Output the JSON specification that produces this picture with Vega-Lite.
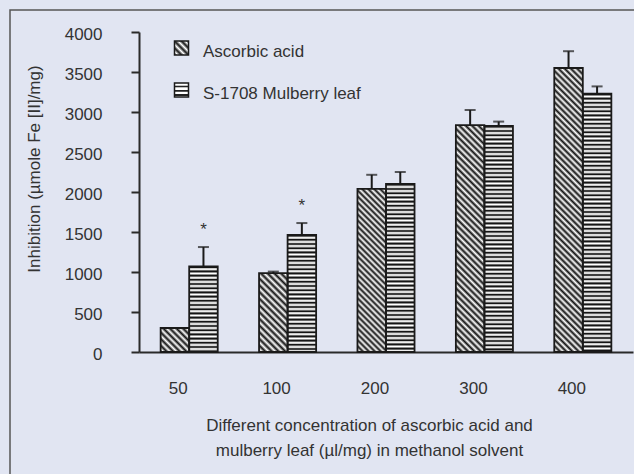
{
  "$schema": "https://vega.github.io/schema/vega-lite/v6.json",
  "width": 624,
  "height": 464,
  "autosize": {"type": "none"},
  "padding": {"left": 10, "top": 10, "right": 0, "bottom": 0},
  "background": "#e1e5f2",
  "config": {
    "font": "Liberation Sans",
    "view": {"stroke": "#555", "strokeWidth": 1.5, "strokeDash": [624, 1088, 464], "fill": null},
    "axis": {"grid": false, "domainColor": "#2a2a2a", "domainWidth": 2, "tickColor": "#2a2a2a", "tickWidth": 2, "labelColor": "#333", "titleColor": "#333", "labelFontSize": 17, "titleFontSize": 17, "titleFontWeight": "normal", "labelFont": "Liberation Sans", "titleFont": "Liberation Sans"}
  },
  "data": {"values": [
    {"conc": "50", "series": "Ascorbic acid", "value": 300, "upper": 300, "sig": ""},
    {"conc": "50", "series": "S-1708 Mulberry leaf", "value": 1070, "upper": 1312, "sig": "*"},
    {"conc": "100", "series": "Ascorbic acid", "value": 985, "upper": 1005, "sig": ""},
    {"conc": "100", "series": "S-1708 Mulberry leaf", "value": 1465, "upper": 1612, "sig": "*"},
    {"conc": "200", "series": "Ascorbic acid", "value": 2040, "upper": 2215, "sig": ""},
    {"conc": "200", "series": "S-1708 Mulberry leaf", "value": 2100, "upper": 2250, "sig": ""},
    {"conc": "300", "series": "Ascorbic acid", "value": 2835, "upper": 3025, "sig": ""},
    {"conc": "300", "series": "S-1708 Mulberry leaf", "value": 2825, "upper": 2880, "sig": ""},
    {"conc": "400", "series": "Ascorbic acid", "value": 3550, "upper": 3760, "sig": ""},
    {"conc": "400", "series": "S-1708 Mulberry leaf", "value": 3230, "upper": 3320, "sig": ""}
  ]},
  "encoding": {
    "x": {"field": "conc", "type": "nominal", "sort": ["50", "100", "200", "300", "400"],
      "scale": {"range": [129, 623], "paddingInner": 0.42, "paddingOuter": 0.22},
      "axis": {"orient": "bottom", "offset": -122, "ticks": false, "tickSize": 0, "labelPadding": 28.7, "labelOffset": -11, "labelAngle": 0,
        "title": ["Different concentration of  ascorbic acid and", "mulberry leaf (µl/mg) in methanol solvent"],
        "titleX": 359, "titleY": 78, "titleBaseline": "alphabetic", "titleLineHeight": 25, "titleAlign": "center"}},
    "xOffset": {"field": "series", "type": "nominal", "sort": ["Ascorbic acid", "S-1708 Mulberry leaf"], "scale": {"paddingInner": 0, "paddingOuter": 0}},
    "y": {"field": "value", "type": "quantitative",
      "scale": {"domain": [0, 4000], "range": [342, 22], "nice": false},
      "axis": {"orient": "left", "offset": -129, "values": [0, 500, 1000, 1500, 2000, 2500, 3000, 3500, 4000], "format": "d", "tickSize": 8, "labelPadding": 29, "labelAlign": "right", "labelBaseline": "middle", "labelOffset": 2.5,
        "title": "Inhibition (µmole Fe [II]/mg)", "titleX": -105, "titleY": 158.5, "titleBaseline": "middle", "titleAngle": 270}}
  },
  "layer": [
    {
      "mark": {"type": "bar", "fill": "#888"},
      "encoding": {
        "opacity": {"field": "series", "type": "nominal", "scale": {"domain": ["Ascorbic acid", "S-1708 Mulberry leaf"], "range": [1, 1]},
          "legend": {"orient": "none", "legendX": 163, "legendY": 29.5, "title": null, "padding": 0, "symbolType": "square", "symbolSize": 196, "labelFontSize": 17, "labelColor": "#333", "labelFont": "Liberation Sans", "labelOffset": 13, "rowPadding": 19, "labelBaseline": "middle",
            "encoding": {
              "symbols": {
                "fill": {"condition": {"test": "datum.value === 'Ascorbic acid'", "value": {"gradient": "linear", "x1": 0, "y1": 1, "x2": 1, "y2": 0, "stops": [{"offset": 0, "color": "#111"}, {"offset": 0.125, "color": "#fff"}, {"offset": 0.25, "color": "#111"}, {"offset": 0.375, "color": "#fff"}, {"offset": 0.5, "color": "#111"}, {"offset": 0.625, "color": "#fff"}, {"offset": 0.75, "color": "#111"}, {"offset": 0.875, "color": "#fff"}, {"offset": 1, "color": "#111"}]}},
                  "value": {"gradient": "linear", "x1": 0, "y1": 0, "x2": 0, "y2": 1, "stops": [{"offset": 0, "color": "#fff"}, {"offset": 0.17, "color": "#fff"}, {"offset": 0.2, "color": "#222"}, {"offset": 0.3, "color": "#222"}, {"offset": 0.33, "color": "#fff"}, {"offset": 0.47, "color": "#fff"}, {"offset": 0.5, "color": "#222"}, {"offset": 0.6, "color": "#222"}, {"offset": 0.63, "color": "#fff"}, {"offset": 0.77, "color": "#fff"}, {"offset": 0.8, "color": "#222"}, {"offset": 0.9, "color": "#222"}, {"offset": 0.93, "color": "#fff"}, {"offset": 1, "color": "#fff"}]}},
                "stroke": {"value": "#1a1a1a"},
                "strokeWidth": {"value": 1.5}
              },
              "labels": {"dy": {"value": 4}}
            }
          }
        }
      }
    },
    {
      "transform": [{"filter": "datum.series === 'Ascorbic acid'"}],
      "mark": {"type": "bar"},
      "encoding": {
        "fill": {"condition": [
          {"test": "datum.conc === '50'", "value": {"gradient": "linear", "x1": 0, "y1": 1, "x2": 1.0784, "y2": 0.0932, "stops": [{"offset": 0, "color": "#111"}, {"offset": 0.0625, "color": "#fff"}, {"offset": 0.125, "color": "#111"}, {"offset": 0.1875, "color": "#fff"}, {"offset": 0.25, "color": "#111"}, {"offset": 0.3125, "color": "#fff"}, {"offset": 0.375, "color": "#111"}, {"offset": 0.4375, "color": "#fff"}, {"offset": 0.5, "color": "#111"}, {"offset": 0.5625, "color": "#fff"}, {"offset": 0.625, "color": "#111"}, {"offset": 0.6875, "color": "#fff"}, {"offset": 0.75, "color": "#111"}, {"offset": 0.8125, "color": "#fff"}, {"offset": 0.875, "color": "#111"}, {"offset": 0.9375, "color": "#fff"}, {"offset": 1, "color": "#111"}]}},
          {"test": "datum.conc === '100'", "value": {"gradient": "linear", "x1": 0, "y1": 1, "x2": 0.4362, "y2": -0.2042, "stops": [{"offset": 0, "color": "#111"}, {"offset": 0.03125, "color": "#fff"}, {"offset": 0.0625, "color": "#111"}, {"offset": 0.09375, "color": "#fff"}, {"offset": 0.125, "color": "#111"}, {"offset": 0.15625, "color": "#fff"}, {"offset": 0.1875, "color": "#111"}, {"offset": 0.21875, "color": "#fff"}, {"offset": 0.25, "color": "#111"}, {"offset": 0.28125, "color": "#fff"}, {"offset": 0.3125, "color": "#111"}, {"offset": 0.34375, "color": "#fff"}, {"offset": 0.375, "color": "#111"}, {"offset": 0.40625, "color": "#fff"}, {"offset": 0.4375, "color": "#111"}, {"offset": 0.46875, "color": "#fff"}, {"offset": 0.5, "color": "#111"}, {"offset": 0.53125, "color": "#fff"}, {"offset": 0.5625, "color": "#111"}, {"offset": 0.59375, "color": "#fff"}, {"offset": 0.625, "color": "#111"}, {"offset": 0.65625, "color": "#fff"}, {"offset": 0.6875, "color": "#111"}, {"offset": 0.71875, "color": "#fff"}, {"offset": 0.75, "color": "#111"}, {"offset": 0.78125, "color": "#fff"}, {"offset": 0.8125, "color": "#111"}, {"offset": 0.84375, "color": "#fff"}, {"offset": 0.875, "color": "#111"}, {"offset": 0.90625, "color": "#fff"}, {"offset": 0.9375, "color": "#111"}, {"offset": 0.96875, "color": "#fff"}, {"offset": 1, "color": "#111"}]}},
          {"test": "datum.conc === '200'", "value": {"gradient": "linear", "x1": 0, "y1": 1, "x2": 0.1994, "y2": -0.14, "stops": [{"offset": 0, "color": "#111"}, {"offset": 0.015625, "color": "#fff"}, {"offset": 0.03125, "color": "#111"}, {"offset": 0.046875, "color": "#fff"}, {"offset": 0.0625, "color": "#111"}, {"offset": 0.078125, "color": "#fff"}, {"offset": 0.09375, "color": "#111"}, {"offset": 0.109375, "color": "#fff"}, {"offset": 0.125, "color": "#111"}, {"offset": 0.140625, "color": "#fff"}, {"offset": 0.15625, "color": "#111"}, {"offset": 0.171875, "color": "#fff"}, {"offset": 0.1875, "color": "#111"}, {"offset": 0.203125, "color": "#fff"}, {"offset": 0.21875, "color": "#111"}, {"offset": 0.234375, "color": "#fff"}, {"offset": 0.25, "color": "#111"}, {"offset": 0.265625, "color": "#fff"}, {"offset": 0.28125, "color": "#111"}, {"offset": 0.296875, "color": "#fff"}, {"offset": 0.3125, "color": "#111"}, {"offset": 0.328125, "color": "#fff"}, {"offset": 0.34375, "color": "#111"}, {"offset": 0.359375, "color": "#fff"}, {"offset": 0.375, "color": "#111"}, {"offset": 0.390625, "color": "#fff"}, {"offset": 0.40625, "color": "#111"}, {"offset": 0.421875, "color": "#fff"}, {"offset": 0.4375, "color": "#111"}, {"offset": 0.453125, "color": "#fff"}, {"offset": 0.46875, "color": "#111"}, {"offset": 0.484375, "color": "#fff"}, {"offset": 0.5, "color": "#111"}, {"offset": 0.515625, "color": "#fff"}, {"offset": 0.53125, "color": "#111"}, {"offset": 0.546875, "color": "#fff"}, {"offset": 0.5625, "color": "#111"}, {"offset": 0.578125, "color": "#fff"}, {"offset": 0.59375, "color": "#111"}, {"offset": 0.609375, "color": "#fff"}, {"offset": 0.625, "color": "#111"}, {"offset": 0.640625, "color": "#fff"}, {"offset": 0.65625, "color": "#111"}, {"offset": 0.671875, "color": "#fff"}, {"offset": 0.6875, "color": "#111"}, {"offset": 0.703125, "color": "#fff"}, {"offset": 0.71875, "color": "#111"}, {"offset": 0.734375, "color": "#fff"}, {"offset": 0.75, "color": "#111"}, {"offset": 0.765625, "color": "#fff"}, {"offset": 0.78125, "color": "#111"}, {"offset": 0.796875, "color": "#fff"}, {"offset": 0.8125, "color": "#111"}, {"offset": 0.828125, "color": "#fff"}, {"offset": 0.84375, "color": "#111"}, {"offset": 0.859375, "color": "#fff"}, {"offset": 0.875, "color": "#111"}, {"offset": 0.890625, "color": "#fff"}, {"offset": 0.90625, "color": "#111"}, {"offset": 0.921875, "color": "#fff"}, {"offset": 0.9375, "color": "#111"}, {"offset": 0.953125, "color": "#fff"}, {"offset": 0.96875, "color": "#111"}, {"offset": 0.984375, "color": "#fff"}, {"offset": 1, "color": "#111"}]}},
          {"test": "datum.conc === '300'", "value": {"gradient": "linear", "x1": 0, "y1": 1, "x2": 0.1395, "y2": -0.1083, "stops": [{"offset": 0, "color": "#111"}, {"offset": 0.0125, "color": "#fff"}, {"offset": 0.025, "color": "#111"}, {"offset": 0.0375, "color": "#fff"}, {"offset": 0.05, "color": "#111"}, {"offset": 0.0625, "color": "#fff"}, {"offset": 0.075, "color": "#111"}, {"offset": 0.0875, "color": "#fff"}, {"offset": 0.1, "color": "#111"}, {"offset": 0.1125, "color": "#fff"}, {"offset": 0.125, "color": "#111"}, {"offset": 0.1375, "color": "#fff"}, {"offset": 0.15, "color": "#111"}, {"offset": 0.1625, "color": "#fff"}, {"offset": 0.175, "color": "#111"}, {"offset": 0.1875, "color": "#fff"}, {"offset": 0.2, "color": "#111"}, {"offset": 0.2125, "color": "#fff"}, {"offset": 0.225, "color": "#111"}, {"offset": 0.2375, "color": "#fff"}, {"offset": 0.25, "color": "#111"}, {"offset": 0.2625, "color": "#fff"}, {"offset": 0.275, "color": "#111"}, {"offset": 0.2875, "color": "#fff"}, {"offset": 0.3, "color": "#111"}, {"offset": 0.3125, "color": "#fff"}, {"offset": 0.325, "color": "#111"}, {"offset": 0.3375, "color": "#fff"}, {"offset": 0.35, "color": "#111"}, {"offset": 0.3625, "color": "#fff"}, {"offset": 0.375, "color": "#111"}, {"offset": 0.3875, "color": "#fff"}, {"offset": 0.4, "color": "#111"}, {"offset": 0.4125, "color": "#fff"}, {"offset": 0.425, "color": "#111"}, {"offset": 0.4375, "color": "#fff"}, {"offset": 0.45, "color": "#111"}, {"offset": 0.4625, "color": "#fff"}, {"offset": 0.475, "color": "#111"}, {"offset": 0.4875, "color": "#fff"}, {"offset": 0.5, "color": "#111"}, {"offset": 0.5125, "color": "#fff"}, {"offset": 0.525, "color": "#111"}, {"offset": 0.5375, "color": "#fff"}, {"offset": 0.55, "color": "#111"}, {"offset": 0.5625, "color": "#fff"}, {"offset": 0.575, "color": "#111"}, {"offset": 0.5875, "color": "#fff"}, {"offset": 0.6, "color": "#111"}, {"offset": 0.6125, "color": "#fff"}, {"offset": 0.625, "color": "#111"}, {"offset": 0.6375, "color": "#fff"}, {"offset": 0.65, "color": "#111"}, {"offset": 0.6625, "color": "#fff"}, {"offset": 0.675, "color": "#111"}, {"offset": 0.6875, "color": "#fff"}, {"offset": 0.7, "color": "#111"}, {"offset": 0.7125, "color": "#fff"}, {"offset": 0.725, "color": "#111"}, {"offset": 0.7375, "color": "#fff"}, {"offset": 0.75, "color": "#111"}, {"offset": 0.7625, "color": "#fff"}, {"offset": 0.775, "color": "#111"}, {"offset": 0.7875, "color": "#fff"}, {"offset": 0.8, "color": "#111"}, {"offset": 0.8125, "color": "#fff"}, {"offset": 0.825, "color": "#111"}, {"offset": 0.8375, "color": "#fff"}, {"offset": 0.85, "color": "#111"}, {"offset": 0.8625, "color": "#fff"}, {"offset": 0.875, "color": "#111"}, {"offset": 0.8875, "color": "#fff"}, {"offset": 0.9, "color": "#111"}, {"offset": 0.9125, "color": "#fff"}, {"offset": 0.925, "color": "#111"}, {"offset": 0.9375, "color": "#fff"}, {"offset": 0.95, "color": "#111"}, {"offset": 0.9625, "color": "#fff"}, {"offset": 0.975, "color": "#111"}, {"offset": 0.9875, "color": "#fff"}, {"offset": 1, "color": "#111"}]}},
          {"test": "datum.conc === '400'", "value": {"gradient": "linear", "x1": 0, "y1": 1, "x2": 0.1095, "y2": -0.0895, "stops": [{"offset": 0, "color": "#111"}, {"offset": 0.01, "color": "#fff"}, {"offset": 0.02, "color": "#111"}, {"offset": 0.03, "color": "#fff"}, {"offset": 0.04, "color": "#111"}, {"offset": 0.05, "color": "#fff"}, {"offset": 0.06, "color": "#111"}, {"offset": 0.07, "color": "#fff"}, {"offset": 0.08, "color": "#111"}, {"offset": 0.09, "color": "#fff"}, {"offset": 0.1, "color": "#111"}, {"offset": 0.11, "color": "#fff"}, {"offset": 0.12, "color": "#111"}, {"offset": 0.13, "color": "#fff"}, {"offset": 0.14, "color": "#111"}, {"offset": 0.15, "color": "#fff"}, {"offset": 0.16, "color": "#111"}, {"offset": 0.17, "color": "#fff"}, {"offset": 0.18, "color": "#111"}, {"offset": 0.19, "color": "#fff"}, {"offset": 0.2, "color": "#111"}, {"offset": 0.21, "color": "#fff"}, {"offset": 0.22, "color": "#111"}, {"offset": 0.23, "color": "#fff"}, {"offset": 0.24, "color": "#111"}, {"offset": 0.25, "color": "#fff"}, {"offset": 0.26, "color": "#111"}, {"offset": 0.27, "color": "#fff"}, {"offset": 0.28, "color": "#111"}, {"offset": 0.29, "color": "#fff"}, {"offset": 0.3, "color": "#111"}, {"offset": 0.31, "color": "#fff"}, {"offset": 0.32, "color": "#111"}, {"offset": 0.33, "color": "#fff"}, {"offset": 0.34, "color": "#111"}, {"offset": 0.35, "color": "#fff"}, {"offset": 0.36, "color": "#111"}, {"offset": 0.37, "color": "#fff"}, {"offset": 0.38, "color": "#111"}, {"offset": 0.39, "color": "#fff"}, {"offset": 0.4, "color": "#111"}, {"offset": 0.41, "color": "#fff"}, {"offset": 0.42, "color": "#111"}, {"offset": 0.43, "color": "#fff"}, {"offset": 0.44, "color": "#111"}, {"offset": 0.45, "color": "#fff"}, {"offset": 0.46, "color": "#111"}, {"offset": 0.47, "color": "#fff"}, {"offset": 0.48, "color": "#111"}, {"offset": 0.49, "color": "#fff"}, {"offset": 0.5, "color": "#111"}, {"offset": 0.51, "color": "#fff"}, {"offset": 0.52, "color": "#111"}, {"offset": 0.53, "color": "#fff"}, {"offset": 0.54, "color": "#111"}, {"offset": 0.55, "color": "#fff"}, {"offset": 0.56, "color": "#111"}, {"offset": 0.57, "color": "#fff"}, {"offset": 0.58, "color": "#111"}, {"offset": 0.59, "color": "#fff"}, {"offset": 0.6, "color": "#111"}, {"offset": 0.61, "color": "#fff"}, {"offset": 0.62, "color": "#111"}, {"offset": 0.63, "color": "#fff"}, {"offset": 0.64, "color": "#111"}, {"offset": 0.65, "color": "#fff"}, {"offset": 0.66, "color": "#111"}, {"offset": 0.67, "color": "#fff"}, {"offset": 0.68, "color": "#111"}, {"offset": 0.69, "color": "#fff"}, {"offset": 0.7, "color": "#111"}, {"offset": 0.71, "color": "#fff"}, {"offset": 0.72, "color": "#111"}, {"offset": 0.73, "color": "#fff"}, {"offset": 0.74, "color": "#111"}, {"offset": 0.75, "color": "#fff"}, {"offset": 0.76, "color": "#111"}, {"offset": 0.77, "color": "#fff"}, {"offset": 0.78, "color": "#111"}, {"offset": 0.79, "color": "#fff"}, {"offset": 0.8, "color": "#111"}, {"offset": 0.81, "color": "#fff"}, {"offset": 0.82, "color": "#111"}, {"offset": 0.83, "color": "#fff"}, {"offset": 0.84, "color": "#111"}, {"offset": 0.85, "color": "#fff"}, {"offset": 0.86, "color": "#111"}, {"offset": 0.87, "color": "#fff"}, {"offset": 0.88, "color": "#111"}, {"offset": 0.89, "color": "#fff"}, {"offset": 0.9, "color": "#111"}, {"offset": 0.91, "color": "#fff"}, {"offset": 0.92, "color": "#111"}, {"offset": 0.93, "color": "#fff"}, {"offset": 0.94, "color": "#111"}, {"offset": 0.95, "color": "#fff"}, {"offset": 0.96, "color": "#111"}, {"offset": 0.97, "color": "#fff"}, {"offset": 0.98, "color": "#111"}, {"offset": 0.99, "color": "#fff"}, {"offset": 1, "color": "#111"}]}}
        ], "value": "#888"}
      }
    },
    {
      "transform": [{"filter": "datum.series === 'S-1708 Mulberry leaf'"}],
      "mark": {"type": "bar", "fill": "#b8b8b8"}
    },
    {
      "transform": [{"filter": "datum.series === 'S-1708 Mulberry leaf'"}],
      "mark": {"type": "rule", "stroke": "#151515", "strokeWidth": 28.5, "strokeCap": "butt", "strokeDash": [1.6, 2.6]},
      "encoding": {"y2": {"datum": 0}}
    },
    {
      "transform": [{"filter": "datum.series === 'S-1708 Mulberry leaf'"}],
      "mark": {"type": "rule", "stroke": "#ffffff", "strokeWidth": 28.5, "strokeCap": "butt", "strokeDash": [1.0, 3.2], "strokeDashOffset": 1.8},
      "encoding": {"y2": {"datum": 0}}
    },
    {
      "mark": {"type": "bar", "filled": false, "stroke": "#1a1a1a", "strokeWidth": 1.8}
    },
    {
      "transform": [{"filter": "datum.upper > datum.value"}],
      "mark": {"type": "rule", "stroke": "#1a1a1a", "strokeWidth": 2},
      "encoding": {"y2": {"field": "upper"}}
    },
    {
      "transform": [{"filter": "datum.upper > datum.value"}],
      "mark": {"type": "tick", "orient": "horizontal", "color": "#1a1a1a", "size": 11, "thickness": 2},
      "encoding": {"y": {"field": "upper", "type": "quantitative"}}
    },
    {
      "transform": [{"filter": "datum.sig !== ''"}],
      "mark": {"type": "text", "fontSize": 17, "color": "#333", "align": "center", "baseline": "alphabetic", "dy": -12},
      "encoding": {"y": {"field": "upper", "type": "quantitative"}, "text": {"field": "sig"}}
    }
  ]
}
